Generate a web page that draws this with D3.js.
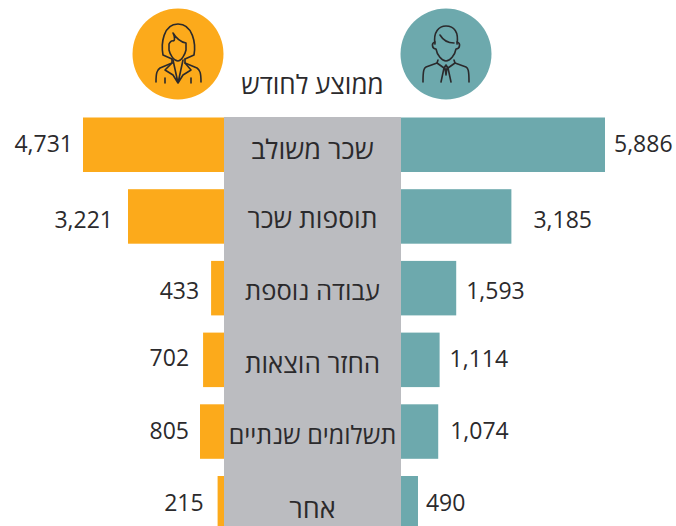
<!DOCTYPE html>
<html lang="he"><head><meta charset="utf-8">
<script src="https://cdn.jsdelivr.net/npm/d3@7"></script>
<style>html,body{margin:0;padding:0;background:#fff}svg{display:block}
text{font-family:"Open Sans","Noto Sans","DejaVu Sans",sans-serif;fill:#2b2a2c}</style></head>
<body><script>
const categories=["שכר משולב","תוספות שכר","עבודה נוספת","החזר הוצאות","תשלומים שנתיים","אחר"];
const womenValues=[4731,3221,433,702,805,215];
const menValues=[5886,3185,1593,1114,1074,490];
const title="ממוצע לחודש";
const W=676,H=526,midL=224,midR=401;
const fmt=d3.format(",");
const svg=d3.select("body").append("svg").attr("width",W).attr("height",H);
const y=d3.scaleBand().domain(categories).range([117.5,530.5]).paddingInner(0.24).paddingOuter(0);
const xL=d3.scaleLinear().domain([0,4731]).range([midL,83]);
const xR=d3.scaleLinear().domain([0,5886]).range([midR,605]);
const orange="#fcaa1b",teal="#6da9ad",gray="#bbbcc0",ink="#2b2a2c";
const lGap=[10,15,12,14,11,14],rGap=[9,22,10,10,12,8];
const lDy=[7.5,11.5,10.5,6.5,7.5,7.5],rDy=[7.5,11.5,10.5,7.5,7.5,7.5];
const lblDy=[14.5,11.5,11.5,13.5,12.5,14.5];
const lblSize=[27,26.4,25.6,26,25,27];
svg.selectAll(".l").data(categories).join("rect").attr("fill",orange)
 .attr("x",(d,i)=>xL(womenValues[i])).attr("width",(d,i)=>midL-xL(womenValues[i]))
 .attr("y",d=>y(d)).attr("height",y.bandwidth());
svg.selectAll(".r").data(categories).join("rect").attr("fill",teal)
 .attr("x",midR).attr("width",(d,i)=>xR(menValues[i])-midR)
 .attr("y",d=>y(d)).attr("height",y.bandwidth());
svg.append("rect").attr("x",midL).attr("y",117).attr("width",midR-midL).attr("height",H-117).attr("fill",gray);
const fs=23;
const cy=d=>y(d)+y.bandwidth()/2;
svg.selectAll(".vl").data(categories).join("text").attr("text-anchor","end").attr("font-size",fs)
 .attr("x",(d,i)=>xL(womenValues[i])-lGap[i]).attr("y",(d,i)=>cy(d)+lDy[i]).text((d,i)=>fmt(womenValues[i]));
svg.selectAll(".vr").data(categories).join("text").attr("text-anchor","start").attr("font-size",fs)
 .attr("x",(d,i)=>xR(menValues[i])+rGap[i]).attr("y",(d,i)=>cy(d)+rDy[i]).text((d,i)=>fmt(menValues[i]));
svg.selectAll(".c").data(categories).join("text").attr("text-anchor","middle").attr("direction","rtl")
 .attr("font-size",(d,i)=>lblSize[i])
 .attr("x",(midL+midR)/2).attr("y",(d,i)=>cy(d)+lblDy[i]).text(d=>d);
svg.append("text").attr("x",312.5).attr("y",94).attr("text-anchor","middle").attr("direction","rtl").attr("font-size",26).text(title);
// icons
const woman=svg.append("g").attr("transform","translate(178,54)");
woman.append("circle").attr("r",45.5).attr("fill",orange);
const man=svg.append("g").attr("transform","translate(446,54)");
man.append("circle").attr("r",45.5).attr("fill",teal);
const st=g=>g.attr("fill","none").attr("stroke",ink).attr("stroke-width",1.6).attr("stroke-linecap","round").attr("stroke-linejoin","round");
["M-6,5L-15,1C-17,-10 -15,-30 0,-30C15,-30 18,-10 16,1L7,5",
 "M-9,-10C-8,-12 -6,-14 -5,-13C-3,-13 -3,-17 -5,-21C-2,-16 3,-12 8,-11L8,-4C7,1 3,7 0,7C-4,7 -8,1 -9,-4Z",
 "M-6,5L-6,9L-18,14C-21,16 -22,19 -22,28M7,5L7,9L19,14C22,16 23,19 23,28",
 "M-6,9L-13,16L-5,21L0,29L5,21L13,16L7,9M-5,6L0,29L5,6M-13,24L-13,29M13,24L13,29"]
 .forEach(p=>woman.append("path").attr("d",p).call(st));
["M-11,-10C-13,-22 -7,-28 0,-28C8,-28 13,-22 11,-10",
 "M-11,-12C-15,-11 -14,-5 -10,-5C-9,1 -4,7 0,7C4,7 9,1 10,-5C14,-5 15,-11 11,-12",
 "M-6,-19C-3,-14 2,-11 8,-11",
 "M-8,6L-9,9L-2,14L0,11L2,14L9,9L8,6",
 "M-9,9L-20,13C-22,14 -23,16 -23,28M9,9L20,13C22,14 23,16 23,28",
 "M-2,14L-5,28M2,14L5,28M-1,14L0,21M1,14L0,21"]
 .forEach(p=>man.append("path").attr("d",p).call(st));
</script></body></html>
